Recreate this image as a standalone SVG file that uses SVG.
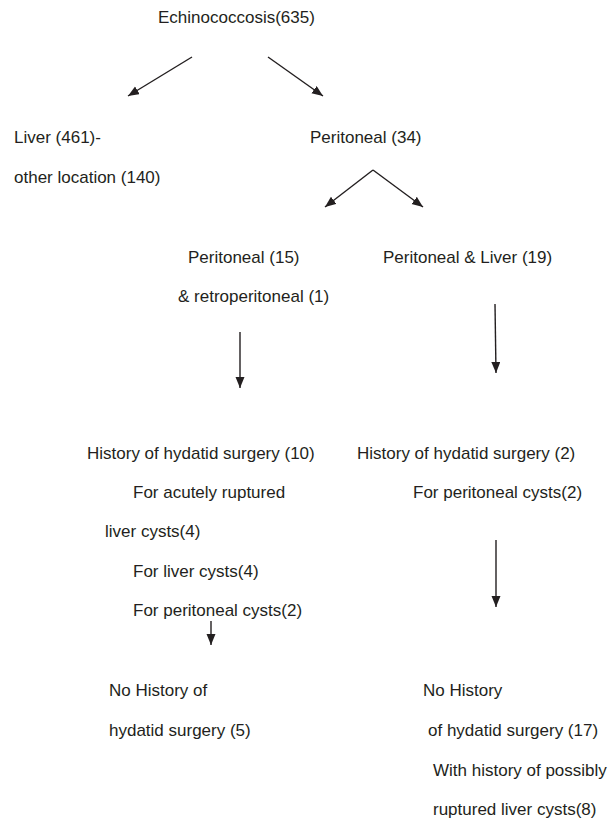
<svg xmlns="http://www.w3.org/2000/svg" width="609" height="819" viewBox="0 0 609 819">
<style>
text{font-family:"Liberation Sans",Arial,sans-serif;font-size:17px;fill:#231f20}
.c{stroke:#231f20;stroke-width:1.4;fill:none;marker-end:url(#ah)}
</style>
<defs>
<marker id="ah" markerUnits="userSpaceOnUse" markerWidth="12" markerHeight="10" refX="11" refY="4.5" orient="auto">
<path d="M0,0 L11,4.5 L0,9 z" fill="#231f20"/>
</marker>
</defs>
<rect width="609" height="819" fill="#fff"/>
<g id="connectors">
<line class="c" x1="192" y1="57" x2="128" y2="96"/>
<line class="c" x1="268" y1="57" x2="323" y2="96"/>
<line class="c" x1="373" y1="170" x2="325" y2="207"/>
<line class="c" x1="373" y1="170" x2="423" y2="207"/>
<line class="c" x1="240" y1="332" x2="240" y2="388"/>
<line class="c" x1="495" y1="304" x2="496" y2="373"/>
<line class="c" x1="211" y1="621" x2="211" y2="645"/>
<line class="c" x1="496" y1="540" x2="496" y2="607"/>
</g>
<g id="root"><text x="158" y="23">Echinococcosis(635)</text></g>
<g id="liver"><text x="14" y="143">Liver (461)-</text><text x="14" y="183">other location (140)</text></g>
<g id="peritoneal"><text x="310" y="143">Peritoneal (34)</text></g>
<g id="peritoneal-only"><text x="188" y="263">Peritoneal (15)</text><text x="178" y="302">&amp; retroperitoneal (1)</text></g>
<g id="peritoneal-liver"><text x="383" y="263">Peritoneal &amp; Liver (19)</text></g>
<g id="history-left">
<text x="87" y="459">History of hydatid surgery (10)</text>
<text x="133" y="498">For acutely ruptured</text>
<text x="105" y="537">liver cysts(4)</text>
<text x="133" y="577">For liver cysts(4)</text>
<text x="133" y="616">For peritoneal cysts(2)</text>
</g>
<g id="history-right">
<text x="357" y="459">History of hydatid surgery (2)</text>
<text x="413" y="498">For peritoneal cysts(2)</text>
</g>
<g id="nohistory-left">
<text x="109" y="696">No History of</text>
<text x="109" y="736">hydatid surgery (5)</text>
</g>
<g id="nohistory-right">
<text x="423" y="696">No History</text>
<text x="428" y="736">of hydatid surgery (17)</text>
<text x="433" y="776">With history of possibly</text>
<text x="433" y="815">ruptured liver cysts(8)</text>
</g>
</svg>
